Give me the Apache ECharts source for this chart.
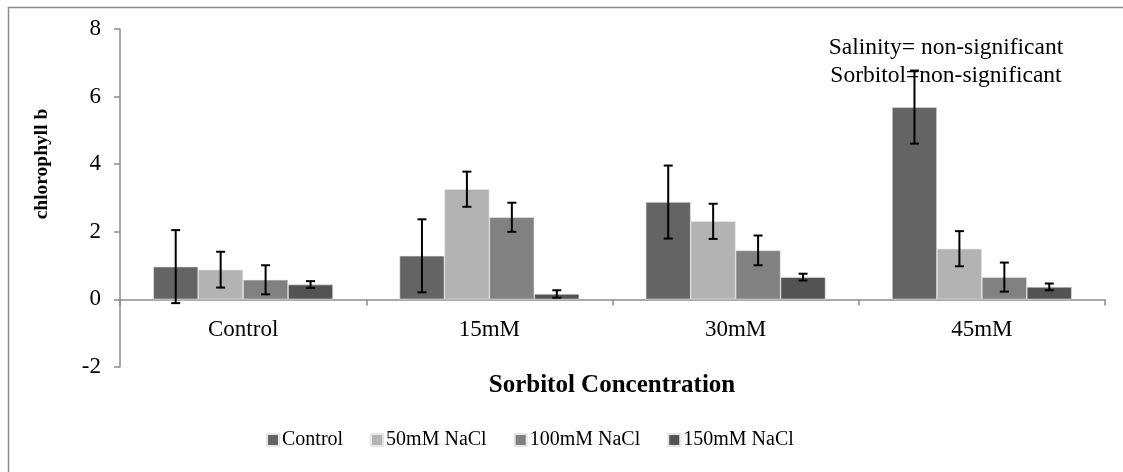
<!DOCTYPE html>
<html>
<head>
<meta charset="utf-8">
<script src="https://cdn.jsdelivr.net/npm/echarts@6/dist/echarts.min.js"></script>
<style>
  html, body { margin: 0; padding: 0; background: #ffffff; }
  #chart { width: 1123px; height: 472px; }
</style>
</head>
<body>
<div id="chart"></div>
<script>
// Sorbitol treatments on the x axis
const categories = ['Control', '15mM', '30mM', '45mM'];

// Salinity levels (one series each)
const seriesNames = ['Control', '50mM NaCl', '100mM NaCl', '150mM NaCl'];

// Mean chlorophyll b per treatment
const controlValues = [0.97, 1.29, 2.88, 5.69];
const nacl50Values  = [0.88, 3.26, 2.31, 1.50];
const nacl100Values = [0.58, 2.43, 1.45, 0.66];
const nacl150Values = [0.44, 0.16, 0.66, 0.37];

// Error (± half range of each error bar)
const controlErrors = [1.08, 1.08, 1.08, 1.08];
const nacl50Errors  = [0.53, 0.52, 0.52, 0.52];
const nacl100Errors = [0.43, 0.43, 0.44, 0.43];
const nacl150Errors = [0.10, 0.11, 0.10, 0.10];

// Y axis ticks
const yMin = -2, yMax = 8, yStep = 2;

const colors = ['#646464', '#b3b3b3', '#818181', '#535353'];
const valueSets = [controlValues, nacl50Values, nacl100Values, nacl150Values];
const errorSets = [controlErrors, nacl50Errors, nacl100Errors, nacl150Errors];

const FONT = '"Liberation Serif", "Times New Roman", serif';
const CAT_GAP = 0.27;

// plot area
const GRID_TOP = 29, GRID_BOTTOM = 105, CHART_H = 472;
const gridH = CHART_H - GRID_TOP - GRID_BOTTOM;
// the category axis sits on the zero line: shift it up from the grid bottom
const xAxisOffset = -gridH * (0 - yMin) / (yMax - yMin);

function errorBarRenderer(k, nSeries) {
  return function (params, api) {
    const ci = api.value(0);
    const v = api.value(1);
    const e = api.value(2);
    const center = api.coord([ci, v]);
    const band = api.size([1, 0])[0];
    const barW = band * (1 - CAT_GAP) / nSeries;
    const x = center[0] + (k - (nSeries - 1) / 2) * barW;
    const yHi = api.coord([ci, v + e])[1];
    const yLo = api.coord([ci, v - e])[1];
    const cap = 4.5;
    const style = { stroke: '#000000', lineWidth: 2 };
    return {
      type: 'group',
      children: [
        { type: 'line', shape: { x1: x, y1: yHi, x2: x, y2: yLo }, style: style },
        { type: 'line', shape: { x1: x - cap, y1: yHi, x2: x + cap, y2: yHi }, style: style },
        { type: 'line', shape: { x1: x - cap, y1: yLo, x2: x + cap, y2: yLo }, style: style }
      ]
    };
  };
}

const barSeries = seriesNames.map(function (name, k) {
  return {
    name: name,
    type: 'bar',
    data: valueSets[k],
    barGap: '0%',
    barCategoryGap: (CAT_GAP * 100) + '%',
    itemStyle: { color: colors[k], borderColor: '#e6e6e6', borderWidth: 0.6 },
    z: 2
  };
});

const errSeries = seriesNames.map(function (name, k) {
  return {
    name: name + ' error',
    type: 'custom',
    renderItem: errorBarRenderer(k, seriesNames.length),
    encode: { x: 0, y: 1 },
    data: valueSets[k].map(function (v, i) { return [i, v, errorSets[k][i]]; }),
    z: 5,
    silent: true
  };
});

const chart = echarts.init(document.getElementById('chart'), null, { renderer: 'canvas' });

chart.setOption({
  animation: false,
  backgroundColor: '#ffffff',
  color: colors,
  grid: { left: 120, right: 18, top: GRID_TOP, bottom: GRID_BOTTOM },
  legend: {
    data: seriesNames,
    left: 261,
    top: 425,
    icon: 'rect',
    itemWidth: 12,
    itemHeight: 12,
    itemGap: 27,
    textStyle: { fontFamily: FONT, fontSize: 20, color: '#000000', padding: [0, 0, 0, -2] }
  },
  xAxis: {
    type: 'category',
    data: categories,
    offset: xAxisOffset,
    axisLine: { onZero: false, lineStyle: { color: '#8c8c8c', width: 1.5 } },
    axisTick: { show: true, length: 6, lineStyle: { color: '#8c8c8c', width: 1.5 } },
    axisLabel: { fontFamily: FONT, fontSize: 23, color: '#000000', margin: 19 },
    splitLine: { show: false }
  },
  yAxis: {
    type: 'value',
    min: yMin,
    max: yMax,
    interval: yStep,
    axisLine: { show: true, lineStyle: { color: '#8c8c8c', width: 1.5 } },
    axisTick: { show: true, length: 6, lineStyle: { color: '#8c8c8c', width: 1.5 } },
    axisLabel: { fontFamily: FONT, fontSize: 23, color: '#000000', margin: 19 },
    splitLine: { show: false }
  },
  graphic: [
    {
      type: 'rect',
      shape: { x: 8.5, y: 7.5, width: 1200, height: 600 },
      style: { fill: 'none', stroke: '#8c8c8c', lineWidth: 1.5 },
      silent: true, z: -10
    },
    {
      type: 'text',
      x: 42, y: 164,
      rotation: Math.PI / 2,
      style: {
        text: 'chlorophyll b',
        font: 'bold 19.5px ' + FONT,
        fill: '#000000',
        textAlign: 'center',
        textVerticalAlign: 'middle'
      }
    },
    {
      type: 'text',
      x: 612, y: 386,
      style: {
        text: 'Sorbitol Concentration',
        font: 'bold 25px ' + FONT,
        fill: '#000000',
        textAlign: 'center',
        textVerticalAlign: 'middle'
      }
    },
    {
      type: 'text',
      x: 946, y: 48,
      style: {
        text: 'Salinity= non-significant',
        font: '23.5px ' + FONT,
        fill: '#000000',
        textAlign: 'center',
        textVerticalAlign: 'middle'
      }
    },
    {
      type: 'text',
      x: 946, y: 76,
      style: {
        text: 'Sorbitol=non-significant',
        font: '23.5px ' + FONT,
        fill: '#000000',
        textAlign: 'center',
        textVerticalAlign: 'middle'
      }
    }
  ],
  series: barSeries.concat(errSeries)
});
</script>
</body>
</html>
